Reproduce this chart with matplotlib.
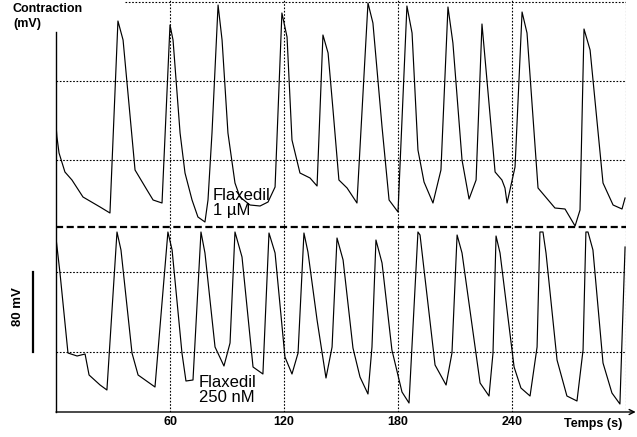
import matplotlib
matplotlib.use("Agg")
import matplotlib.pyplot as plt
from matplotlib.transforms import blended_transform_factory

plt.rcParams['font.family'] = ['Liberation Sans', 'DejaVu Sans']

# Top trace: Flaxedil 1 uM (time s, signal mV, stacked offset)
t_top = [0, 0.5, 1.6, 4.7, 8.4, 14.2, 23.2, 28.4, 32.6, 35.3, 41.6, 47.9, 51.1, 55.8,
         60.0, 61.6, 65.3, 67.9, 71.6, 74.7, 78.4, 80.0, 82.1, 85.3, 87.4, 90.5, 94.2,
         96.8, 102.1, 107.4, 111.6, 115.3, 118.9, 121.6, 124.2, 128.4, 133.7, 137.4,
         140.5, 143.2, 145.8, 148.9, 153.2, 158.4, 164.2, 166.8, 171.6, 175.3, 180.0,
         184.7, 187.4, 190.5, 193.7, 198.4, 202.6, 206.3, 208.9, 213.7, 217.4, 221.1,
         224.2, 231.1, 234.7, 236.3, 237.4, 241.6, 245.3, 247.9, 253.7, 262.6, 267.9,
         273.2, 275.8, 277.9, 281.1, 287.9, 293.2, 297.9, 299.5]
v_top = [287, 275, 259, 240, 232, 215, 205, 199, 391, 372, 242, 222, 212, 209,
         387, 372, 279, 239, 212, 195, 190, 212, 279, 407, 372, 279, 229,
         215, 207, 206, 210, 225, 399, 375, 272, 239, 234, 226,
         377, 359, 302, 232, 224, 209, 409, 389, 285, 212, 200,
         406, 379, 262, 230, 209, 242, 405, 369, 252, 213, 232,
         388, 240, 232, 224, 209, 245, 400, 379, 224, 204, 203,
         186, 202, 383, 362, 229, 207, 203, 214]

# Bottom trace: Flaxedil 250 nM
t_bot = [0, 2.1, 6.3, 11.1, 15.3, 17.4, 23.2, 26.8, 32.1, 34.2, 40.0, 43.2, 52.1,
         58.9, 61.1, 66.3, 68.4, 72.1, 76.3, 78.4, 83.7, 88.4, 91.6, 94.2, 97.9,
         103.7, 108.9, 112.1, 115.3, 120.5, 124.2, 127.4, 130.5, 132.6, 137.4, 142.1,
         145.3, 147.9, 151.1, 156.3, 160.0, 164.2, 166.3, 168.4, 171.6, 176.8, 182.1,
         185.8, 190.5, 191.6, 199.5, 205.3, 208.4, 211.1, 213.7, 223.2, 227.9, 230.0,
         231.6, 233.7, 241.1, 244.7, 249.5, 253.2, 254.7, 256.3, 257.9, 263.7, 268.9,
         274.2, 277.4, 278.9, 280.0, 282.6, 287.9, 292.6, 296.8, 299.5]
v_bot = [174, 139, 59, 56, 58, 37, 27, 22, 180, 162, 59, 37, 25,
         180, 162, 59, 31, 32, 180, 159, 65, 46, 69, 180, 155,
         45, 38, 179, 159, 55, 38, 59, 179, 160, 92, 34,
         65, 174, 152, 64, 35, 18, 65, 172, 149, 62, 20,
         9, 180, 177, 47, 27, 59, 177, 159, 29, 16, 59,
         176, 159, 45, 24, 16, 65, 180, 180, 159, 52, 16,
         11, 62, 180, 180, 162, 49, 19, 8, 165]

x_ticks = [60, 120, 180, 240]
x_tick_labels = ["60", "120", "180", "240"]
h_grid = [60, 140, 252, 331]
separator = 185
top_grid = 410

W, H = 637, 437
fig = plt.figure(figsize=(W / 100, H / 100), dpi=100)
ax = fig.add_axes([56 / W, 25 / H, 570 / W, 412 / H])
ax.set_xlim(0, 300)
ax.set_ylim(0, 412)

dot = dict(color='black', lw=0.8, ls=(0, (1.5, 1.5)))
for y in h_grid:
    ax.axhline(y, **dot)
ax.axhline(top_grid, xmin=(125 - 56) / 570, **dot)
for x in x_ticks + [300]:
    ax.axvline(x, **dot)

ax.axhline(separator, color='black', lw=1.6, ls=(0, (3.2, 1.6)))

ax.plot(t_top, v_top, color='black', lw=0.85)
ax.plot(t_bot, v_bot, color='black', lw=0.85)

for s in ['top', 'right', 'bottom']:
    ax.spines[s].set_visible(False)
ax.spines['left'].set_bounds(0, 380)
ax.spines['left'].set_linewidth(1.0)

ax.annotate('', xy=(1.017, 0), xytext=(0, 0), xycoords='axes fraction',
            textcoords='axes fraction',
            arrowprops=dict(arrowstyle='->', lw=1.0, color='black',
                            shrinkA=0, shrinkB=0, mutation_scale=9))

ax.set_xticks(x_ticks)
ax.set_xticklabels(x_tick_labels, fontsize=9, fontweight='bold')
ax.tick_params(axis='x', length=0, pad=3)
ax.set_yticks([])

ax.text(82.6, 224, "Flaxedil\n1 \u00b5M", fontsize=12, ha='left', va='top', linespacing=1.0)
ax.text(75.3, 37, "Flaxedil\n250 nM", fontsize=12, ha='left', va='top', linespacing=1.0)

fig.text(13 / W, 1 - 3 / H, "Contraction\n(mV)", fontsize=9, fontweight='bold',
         ha='left', va='top', linespacing=1.3)
fig.text(622 / W, 1 - 424 / H, "Temps (s)", fontsize=9, fontweight='bold',
         ha='right', va='center')

tr = blended_transform_factory(fig.transFigure, ax.transData)
ax.plot([33 / W, 33 / W], [60, 140], color='black', lw=1.6, transform=tr, clip_on=False)
fig.text(18 / W, 1 - 307 / H, "80 mV", fontsize=9.5, fontweight='bold', rotation=90,
         ha='center', va='center')

fig.savefig("out.png", dpi=100)
